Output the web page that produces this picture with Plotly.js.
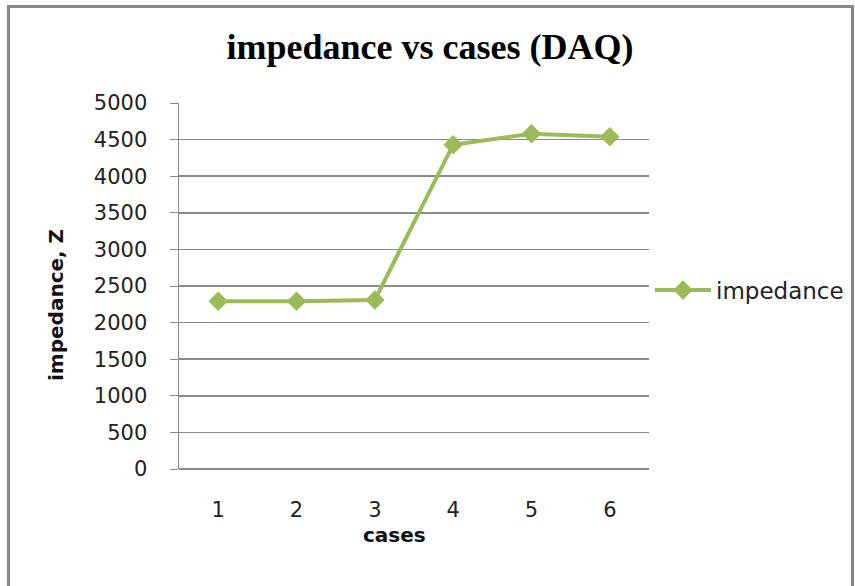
<!DOCTYPE html>
<html>
<head>
<meta charset="utf-8">
<script src="https://cdn.plot.ly/plotly-3.0.1.min.js"></script>
<style>
  html, body { margin: 0; padding: 0; background: #fff; }
  #chart { width: 855px; height: 586px; position: relative; }
  #frame { position: absolute; left: 7px; top: 5px; width: 847px; height: 600px;
           border: 3px solid #878787; pointer-events: none; box-sizing: border-box; }
</style>
</head>
<body>
<div id="chart"></div>
<div id="frame"></div>
<script>
const cases = ['1', '2', '3', '4', '5', '6'];
const impedance = [2290, 2290, 2310, 4430, 4580, 4540];
const yTicks = [0, 500, 1000, 1500, 2000, 2500, 3000, 3500, 4000, 4500, 5000];
const seriesName = 'impedance';
const titleText = 'impedance vs cases (DAQ)';
const xTitle = 'cases';
const yTitle = 'impedance, Z';

const green = '#9BBB59';
const grid = '#8a8a8a';

// plot area in pixels (used only for layout placement)
const L = 179, R = 649, T = 103, B = 469;
const W = 855, H = 586;
const px2x = p => (p - L) / (R - L);
const py2y = p => (B - p) / (B - T);

const trace = {
  x: cases,
  y: impedance,
  type: 'scatter',
  mode: 'lines+markers',
  name: seriesName,
  line: { color: green, width: 4 },
  marker: { symbol: 'diamond', size: 15, color: green }
};

const layout = {
  width: W,
  height: H,
  paper_bgcolor: '#ffffff',
  plot_bgcolor: '#ffffff',
  margin: { l: L, r: W - R, t: T, b: H - B },
  title: {
    text: titleText,
    font: { family: 'Liberation Serif, Times New Roman, serif', size: 36, color: '#000', weight: 'bold' },
    x: 430 / W, xref: 'container', xanchor: 'center',
    y: 1 - 46 / H, yref: 'container', yanchor: 'middle'
  },
  xaxis: {
    type: 'category',
    range: [-0.5, cases.length - 0.5],
    tickvals: cases,
    ticktext: cases,
    showgrid: false,
    showline: false,
    zeroline: false,
    ticks: '',
    ticklabelstandoff: 26,
    tickfont: { family: 'DejaVu Sans, sans-serif', size: 21, color: '#222' },
    fixedrange: true
  },
  yaxis: {
    range: [0, 5000],
    tickvals: yTicks,
    ticktext: yTicks.map(String),
    showgrid: true,
    gridcolor: grid,
    gridwidth: 1.5,
    zeroline: true,
    zerolinecolor: grid,
    zerolinewidth: 1.5,
    showline: true,
    linecolor: grid,
    linewidth: 1.5,
    ticks: 'outside',
    ticklen: 8,
    tickcolor: grid,
    ticklabelstandoff: 18,
    tickfont: { family: 'DejaVu Sans, sans-serif', size: 21, color: '#222' },
    fixedrange: true
  },
  annotations: [{
    text: xTitle,
    xref: 'paper', yref: 'paper',
    x: px2x(394), y: py2y(535),
    xanchor: 'center', yanchor: 'middle',
    showarrow: false,
    font: { family: 'DejaVu Sans, sans-serif', size: 20, color: '#111', weight: 'bold' }
  }, {
    text: yTitle,
    xref: 'paper', yref: 'paper',
    x: px2x(56), y: py2y(305),
    xanchor: 'center', yanchor: 'middle',
    textangle: -90,
    showarrow: false,
    font: { family: 'DejaVu Sans, sans-serif', size: 20, color: '#111', weight: 'bold' }
  }],
  showlegend: true,
  legend: {
    x: 650 / W, xanchor: 'left', xref: 'container',
    y: 1 - 290 / H, yanchor: 'middle', yref: 'container',
    font: { family: 'DejaVu Sans, sans-serif', size: 23, color: '#222' },
    bgcolor: 'rgba(0,0,0,0)',
    itemwidth: 56
  }
};

Plotly.newPlot('chart', [trace], layout, { displayModeBar: false, staticPlot: true });
</script>
</body>
</html>
